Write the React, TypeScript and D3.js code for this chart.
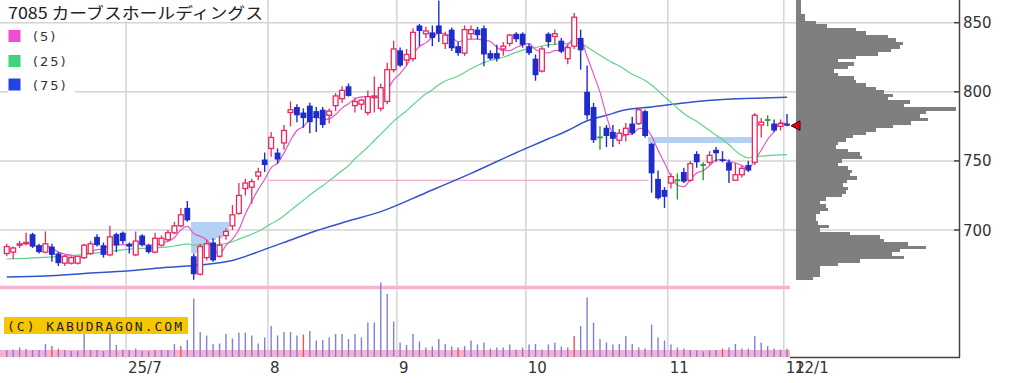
import React from "react";
import * as d3 from "d3";

const W = 1017;
const H = 383;

// ---- Daily OHLC (2025-06-04 .. 2025-12-01) ----
const opens = [683,684,689,690,697,689,684,688,683,676,
  676,676,680,683,695,689,682,697,698,690,
  682,696,689,684,689,693,698,703,716,681,
  668,680,691,681,696,703,712,730,731,739,
  751,759,756,763,785,789,785,790,786,787,
  783,790,795,804,790,791,785,796,788,793,
  816,830,823,824,848,842,843,848,835,845,
  833,828,842,845,846,828,828,831,835,842,
  842,833,824,815,842,840,837,824,833,839,
  800,789,767,774,771,765,769,777,777,786,
  762.5,737,729,734,736,742,736,755,747,749,
  758,751,749,736,740,747,749,776,779.6,777,
  775,777];
const highs = [690,688,692,698,698,690,699,690,684,682,
  681,681,690,692,697,691,703,698,699,691,
  699,697,690,698,696,700,706,716,721,683,
  690,693,694,696,701,718,734,737,737,745,
  756,771,759,776,793,791,788,792,789,789,
  788,799,804,806,795.3,795,801,811,806,821,
  837,832,831,846,849,847,848,866,843.5,846.5,
  836,848,848,847,848,830,834,836,842,843,
  843,835,827,833,843,845,839,834,857,845,
  819,792,775,776,776,773,777.4,782,788,787,
  763,743,731,741,741,745,750,757,749,757,
  760,757,751,748.5,747,750,784.6,781,783,780,
  780,784];
const lows = [681,679,687,689,687,683,683,677,674,674,
  675,675,679,682,688,680,681,684,690,683,
  681,688,683,683,688,692,697,702,706,664,
  667,678,677,680,693,700,711,725,719,736,
  742,753,748,758,775,778,774,770,771,774,
  777,786,792,796.5,785,787,783,785,786,791,
  814,818,819,822,833,839,833,836,831,829.5,
  826,826,838,838,818.5,823,822,826,833,836,
  832,826.6,808,814,832,834,828,820,831,816,
  780,763,758,760,760,762,764,769,776,767,
  727,722,716,730,722,734,735,745,736,747,
  749.4,749,734,736,738,742,747,767,775,771,
  772,775];
const closes = [688,687,690,691,688,684,690,682,676,681,
  680,681,689,690,689,682,695,689,692,688,
  692,689,684,694,694,698,703,711,707,668,
  688,690,678,689,699,711,725,734,735,742,
  747,767,751,772,787,783,781,778,781,776,
  786,797,801,797,793,794,796.5,797,803,816,
  831,819,827,843,844,844,839,842,841,831.5,
  828,845,845,841,827,824,824,833,841,838,
  834,828,812,831,836,842,829,832,854,830,
  783,765,767,768,766,770,773.6,770,787,768,
  741,723,724,738.6,736,735,748,749,747,754,
  755.5,750,743,740,744.6,743,783,778,779.6,772,
  777,775.5];
// volume (thousand shares)
const volumes = [14,15,19,16,14,14,26,22,17,14,
  12,12,46,14,14,12,46,24,15,14,
  17,12,12,14,14,14,26,22,34,117,
  50,43,26,27,46,37,49,49,43,27,
  39,62,43,50,50,43,45,52,33,34,
  39,46,46,36,46,39,69,69,149,126,
  71,29,24,46,31,19,21,36,26,21,
  19,22,33,25,29,17,19,19,25,15,
  19,25,26,15,25,29,21,19,42,62,
  119,69,36,29,25,26,42,26,19,17,
  65,39,33,25,19,17,14,13,11,13,
  14,17,19,26,17,17,42,29,22,17,
  15,17];
const redVolumeDays = [7, 27, 46, 70, 88, 111];

// month boundaries (index of first trading day) and labels
const monthStartIdx = [19, 41, 61, 81, 103, 121];
const monthLabels = ["25/7", "8", "9", "10", "11", "12"];
const lastDateLabel = "12/1";
const priceTicks = [700, 750, 800, 850];

// moving averages read from the chart where earlier data is not shown
const ma25EarlyIdx = [0, 5, 10, 15, 20];
const ma25EarlyVal = [679, 680, 681.5, 684, 686.5];
const ma75Idx = [0, 6, 12, 19, 25, 30, 35, 40, 43, 48, 53, 58, 65, 72, 80, 84, 87, 90, 93, 96, 100, 106, 111, 116, 121];
const ma75Val = [666, 666.7, 668.5, 670.5, 673, 674.7, 678, 686, 691, 699.5, 706.5, 713.3, 727, 741, 758, 766, 772, 779, 783, 787, 789, 792.5, 794.5, 795.3, 796];

// horizontal support line
const supportLevel = 736;
const supportFrom = 41;
const supportTo = 99;

// volume-by-price profile (bin centre price, volume)
const profilePrice = [865,862.5,860,857.5,855,852.5,850,847.5,845,842.5,840,837.5,835,832.5,830,827.5,825,822.5,820,817.5,815,812.5,810,807.5,805,802.5,800,797.5,795,792.5,790,787.5,785,782.5,780,777.5,775,772.5,770,767.5,765,762.5,760,757.5,755,752.5,750,747.5,745,742.5,740,737.5,735,732.5,730,727.5,725,722.5,720,717.5,715,712.5,710,707.5,705,702.5,700,697.5,695,692.5,690,687.5,685,682.5,680,677.5,675,672.5,670,667.5,665];
const profileVolume = [5,5,5,5,9,9,20,31,60,70,92,100,107,104,95,82,60,42,58,52,38,42,58,60,70,80,88,97,92,114,108,160,130,124,132,115,97,80,70,57,50,42,40,52,64,66,46,42,52,56,54,61,51,47,52,50,46,30,24,30,32,24,20,20,22,33,24,54,84,88,112,130,104,96,108,64,42,24,24,24,17];
const profileBin = 2.5;

const COL_UP = "#e8285e";
const COL_DN = "#1e2ccc";
const COL_DOJI = "#2a9a34";
const COL_MA5 = "#e458c8";
const COL_MA25 = "#5cd48a";
const COL_MA75 = "#3354cc";
const COL_GRID = "#d4d4d4";
const COL_PINK = "#f5b2d2";
const COL_GAP = "#b4d0f4";

export default function App() {
  const n = closes.length;
  const x = d3.scaleLinear().domain([0, n - 1]).range([6.75, 787]);
  const step = x(1) - x(0);
  const py = d3.scaleLinear().domain([700, 850]).range([230, 22.7]);
  const vy = d3.scaleLinear().domain([0, 150]).range([357, 282]);
  const px = d3.scaleLinear().domain([0, 100]).range([796, 896]);

  // moving averages
  const ma5: [number, number][] = [];
  for (let i = 4; i < n; i++) ma5.push([i, d3.mean(closes.slice(i - 4, i + 1)) as number]);
  const ma25: [number, number][] = ma25EarlyIdx.map((d, k) => [d, ma25EarlyVal[k]] as [number, number]);
  for (let i = 24; i < n; i++) ma25.push([i, d3.mean(closes.slice(i - 24, i + 1)) as number]);
  const ma75: [number, number][] = ma75Idx.map((d, k) => [d, ma75Val[k]] as [number, number]);
  const line = d3.line<[number, number]>().x((d) => x(d[0])).y((d) => py(d[1])).curve(d3.curveMonotoneX);

  // gap windows (unfilled part of each price gap)
  const gapRects: { i: number; top: number; bot: number }[] = [];
  for (let g = 1; g < n; g++) {
    if (highs[g] < lows[g - 1]) {
      const top = lows[g - 1];
      let maxH = highs[g];
      for (let i = g; i < n; i++) {
        if (i > g && highs[i] >= top) break;
        gapRects.push({ i, top, bot: maxH });
        maxH = Math.max(maxH, highs[i]);
      }
    } else if (lows[g] > highs[g - 1]) {
      const bot = highs[g - 1];
      let minL = lows[g];
      for (let i = g; i < n; i++) {
        if (i > g && lows[i] <= bot) break;
        gapRects.push({ i, top: minL, bot });
        minL = Math.min(minL, lows[i]);
      }
    }
  }

  const lastClose = closes[n - 1];
  const ly = py(lastClose);

  return (
    <svg width={W} height={H} style={{ position: "absolute", left: 0, top: 0, background: "#fff" }}>
      <rect x={0} y={0} width={W} height={H} fill="#fff" />
      {/* grid */}
      {priceTicks.map((t) => (
        <line key={"h" + t} x1={0} x2={959} y1={py(t)} y2={py(t)} stroke={COL_GRID} strokeWidth={1.5} />
      ))}
      {monthStartIdx.map((m) => (
        <line key={"v" + m} x1={x(m) - step / 2} x2={x(m) - step / 2} y1={0} y2={358} stroke={COL_GRID} strokeWidth={1.5} />
      ))}
      {/* pink pane separators */}
      <line x1={0} x2={790} y1={287.5} y2={287.5} stroke={COL_PINK} strokeWidth={3.5} />
      <rect x={0} y={350} width={790} height={7} fill={COL_PINK} />
      {/* support line */}
      <line x1={x(supportFrom) - step / 2} x2={x(supportTo) + step / 2} y1={py(supportLevel)} y2={py(supportLevel)} stroke="#f098c4" strokeWidth={1.2} />
      {/* gap windows */}
      {gapRects.map((r, k) => (
        <rect key={"g" + k} x={x(r.i) - step / 2} width={step} y={py(r.top)} height={py(r.bot) - py(r.top)} fill={COL_GAP} shapeRendering="crispEdges" />
      ))}
      {/* moving averages */}
      <path d={line(ma75) || ""} fill="none" stroke={COL_MA75} strokeWidth={1.5} />
      <path d={line(ma25) || ""} fill="none" stroke={COL_MA25} strokeWidth={1.2} />
      <path d={line(ma5) || ""} fill="none" stroke={COL_MA5} strokeWidth={1.2} />
      {/* candles */}
      {closes.map((c, i) => {
        const o = opens[i];
        const cx = x(i);
        if (c === o) {
          return (
            <g key={"c" + i} stroke={COL_DOJI} strokeWidth={1.4}>
              <line x1={cx} x2={cx} y1={py(highs[i])} y2={py(lows[i])} />
              <line x1={cx - 2.8} x2={cx + 2.8} y1={py(o)} y2={py(o)} strokeWidth={1.8} />
            </g>
          );
        }
        if (c > o) {
          const yt = py(c), yb = py(o);
          return (
            <g key={"c" + i} stroke={COL_UP} strokeWidth={1.3}>
              <line x1={cx} x2={cx} y1={py(highs[i])} y2={yt} />
              <line x1={cx} x2={cx} y1={yb} y2={py(lows[i])} />
              <rect x={cx - 2.4} y={yt} width={4.8} height={Math.max(1, yb - yt)} fill="#fff" />
            </g>
          );
        }
        const yt = py(o), yb = py(c);
        return (
          <g key={"c" + i}>
            <line x1={cx} x2={cx} y1={py(highs[i])} y2={py(lows[i])} stroke={COL_DN} strokeWidth={1.4} />
            <rect x={cx - 2.9} y={yt} width={5.8} height={Math.max(1.5, yb - yt)} fill={COL_DN} />
          </g>
        );
      })}
      {/* volume profile */}
      {profilePrice.map((p, k) => (
        <rect key={"p" + k} x={px(0)} width={px(profileVolume[k]) - px(0)} y={py(p + profileBin / 2)} height={py(p - profileBin / 2) - py(p + profileBin / 2)} fill="#7f7f7f" shapeRendering="crispEdges" />
      ))}
      {/* current price marker */}
      <path d={`M791,${ly} L800,${ly - 4.8} L800,${ly + 4.8} Z`} fill="#e80010" stroke="#3a0000" strokeWidth={1} />
      {/* volume bars */}
      {volumes.map((v, i) => (
        <line key={"vb" + i} x1={x(i)} x2={x(i)} y1={vy(0)} y2={vy(v)} stroke={redVolumeDays.includes(i) ? "#dc5a5a" : "#7e80d4"} strokeWidth={1.4} />
      ))}
      {/* watermark */}
      <rect x={4} y={317} width={184} height={17} fill="#f7c600" />
      <text x={7} y={331} fontFamily="DejaVu Sans Mono" fontSize={13} fill="#222" textLength={175} lengthAdjust="spacing">(C) KABUDRAGON.COM</text>
      {/* right axis */}
      <line x1={959.5} x2={959.5} y1={0} y2={357.5} stroke="#444" strokeWidth={1.5} />
      <line x1={790} x2={960} y1={357.5} y2={357.5} stroke="#444" strokeWidth={1.5} />
      {priceTicks.map((t) => (
        <g key={"t" + t}>
          <line x1={954} x2={959} y1={py(t)} y2={py(t)} stroke="#444" strokeWidth={1.5} />
          <text x={963} y={py(t) + 5.5} fontFamily="DejaVu Sans" fontSize={15} fill="#333">{t}</text>
        </g>
      ))}
      {/* bottom labels */}
      {monthStartIdx.map((m, k) => (
        <text key={"ml" + m} x={x(m) - step / 2 + 2} y={373} fontFamily="DejaVu Sans" fontSize={15} fill="#333">{monthLabels[k]}</text>
      ))}
      <text x={795} y={373} fontFamily="DejaVu Sans" fontSize={15} fill="#333">{lastDateLabel}</text>
      {/* title */}
      <rect x={0} y={0} width={266} height={21} fill="#fff" />
      <text x={8} y={19} fontFamily="Noto Sans CJK JP" fontSize={16} fill="#222" textLength={255} lengthAdjust="spacingAndGlyphs">7085 カーブスホールディングス</text>
      {/* legend */}
      <rect x={8} y={24} width={67} height={73} fill="#fff" />
      {[
        { c: "#f04cd0", t: "(5)", y: 30 },
        { c: "#40d27e", t: "(25)", y: 55 },
        { c: "#2443e6", t: "(75)", y: 78.5 },
      ].map((l) => (
        <g key={l.t}>
          <rect x={8.5} y={l.y} width={12} height={12} fill={l.c} />
          <text x={33} y={l.y + 11} fontFamily="DejaVu Sans" fontSize={13} fill="#333" letterSpacing={2}>{l.t}</text>
        </g>
      ))}
    </svg>
  );
}
